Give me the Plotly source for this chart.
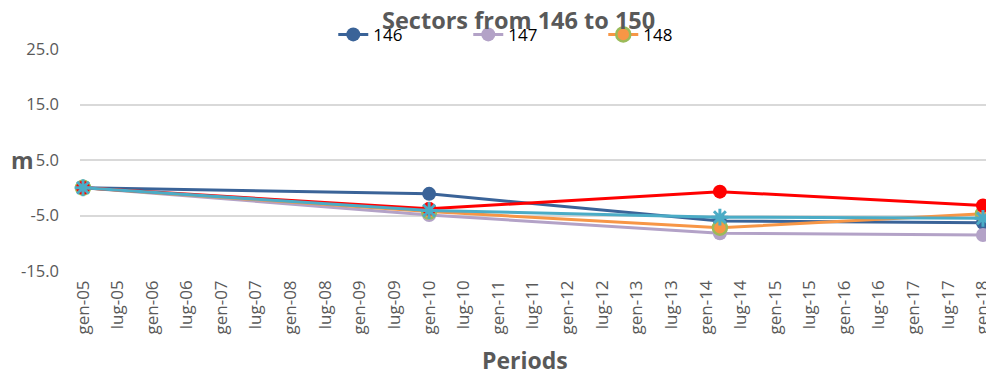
import plotly.graph_objects as go

dates = ["2005-01-01", "2010-01-01", "2014-03-15", "2018-01-01"]
s146 = [0.0, -1.1, -6.0, -6.3]
s147 = [0.0, -4.9, -8.2, -8.5]
s148 = [0.0, -4.3, -7.2, -4.7]
s149 = [0.0, -3.8, -0.7, -3.2]
s150 = [0.0, -4.1, -5.3, -5.5]

tick_dates = []
tick_text = []
for yr in range(2005, 2019):
    for m, lab in ((1, "gen"), (7, "lug")):
        if yr == 2018 and m == 7:
            continue
        tick_dates.append(f"{yr}-{m:02d}-01")
        tick_text.append(f"{lab}-{yr % 100:02d}")

y_ticks = [-15, -5, 5, 15, 25]
y_text = ["-15.0", "-5.0", "5.0", "15.0", "25.0"]

FONT = "Open Sans"
GRAY = "#595959"

fig = go.Figure()
series = [
    ("146", s146, dict(color="#3A6398", width=3), dict(symbol="circle", size=14, color="#3A6398"), True),
    ("147", s147, dict(color="#B3A2C7", width=3), dict(symbol="circle", size=14, color="#B3A2C7"), True),
    ("148", s148, dict(color="#F79646", width=3), dict(symbol="circle", size=14, color="#F79646", line=dict(color="#9BBB59", width=2.5)), True),
    ("149", s149, dict(color="#FF0000", width=3), dict(symbol="circle", size=14, color="#FF0000"), False),
    ("150", s150, dict(color="#4BACC6", width=3), dict(symbol="asterisk-open", size=14, color="#4BACC6", line=dict(color="#4BACC6", width=3)), False),
]
for name, vals, ln, mk, show in series:
    fig.add_trace(go.Scatter(x=dates, y=vals, name=name, mode="lines+markers",
                             line=ln, marker=mk, showlegend=show, cliponaxis=False))

fig.update_layout(
    width=986, height=375,
    margin=dict(l=80, r=0, t=49, b=104, autoexpand=False),
    plot_bgcolor="white", paper_bgcolor="white",
    font=dict(family=FONT, color=GRAY, size=14),
    title=dict(text="<b>Sectors from 146 to 150</b>", x=0.526, xanchor="center",
               y=0.944, yanchor="middle", font=dict(size=23.5, color=GRAY, family=FONT)),
    legend=dict(orientation="h", xref="container", yref="container",
                x=0.338, xanchor="left", y=0.907, yanchor="middle",
                entrywidth=90, font=dict(size=17, color="black", family=FONT),
                bgcolor="rgba(0,0,0,0)"),
    xaxis=dict(type="date", range=["2004-12-16", "2018-01-17"],
               tickvals=tick_dates, ticktext=tick_text, tickangle=-90,
               showgrid=False, showline=False, zeroline=False, automargin=False,
               ticklabeloverflow="allow",
               ticklabelstandoff=5, tickfont=dict(size=17, color=GRAY)),
    yaxis=dict(range=[-15, 25], tickvals=y_ticks, ticktext=y_text,
               showgrid=True, gridcolor="#D9D9D9", gridwidth=1.5, automargin=False,
               zeroline=False, showline=False, ticklabelstandoff=20,
               tickfont=dict(size=16.5, color=GRAY)),
    annotations=[
        dict(text="<b>m</b>", xref="paper", yref="paper", x=-0.064, y=0.5,
             xanchor="center", yanchor="middle", showarrow=False,
             font=dict(size=23, color=GRAY, family=FONT)),
        dict(text="<b>Periods</b>", xref="paper", yref="paper", x=0.491, y=-0.40,
             xanchor="center", yanchor="middle", showarrow=False,
             font=dict(size=23, color=GRAY, family=FONT)),
    ],
)

fig.write_html("out.html", config={"displayModeBar": False},
               post_script="document.body.style.margin='0';")
